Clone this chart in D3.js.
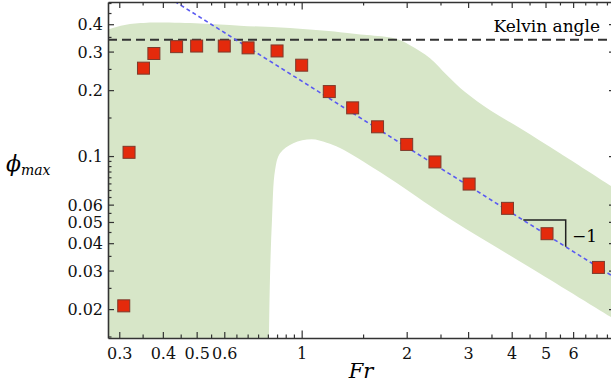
<!DOCTYPE html>
<html>
<head>
<meta charset="utf-8">
<script src="https://cdn.jsdelivr.net/npm/d3@7"></script>
<style>
  html, body { margin: 0; padding: 0; background: #fff; }
  svg { display: block; }
</style>
</head>
<body>
<figure id="chart" style="margin:0"></figure>
<script>
// measured points
const fr = [0.309, 0.320, 0.352, 0.377, 0.438, 0.500, 0.600, 0.702, 0.850, 1.00,
            1.20, 1.40, 1.65, 2.00, 2.41, 3.02, 3.89, 5.05, 7.09];
const phiMax = [0.0207, 0.104, 0.252, 0.294, 0.316, 0.318, 0.318, 0.312, 0.302, 0.260,
                0.197, 0.166, 0.136, 0.113, 0.094, 0.0745, 0.0577, 0.0442, 0.0310];

// green band: upper edge (left to right), lower edge (right to left)
const bandUpperFr  = [0.27, 0.311, 0.360, 0.511, 0.665, 0.926, 1.288, 1.539, 1.851, 2.044,
                      2.333, 2.61, 2.94, 3.47, 4.23, 5.50, 8.0];
const bandUpperPhi = [0.372, 0.3965, 0.406, 0.403, 0.394, 0.384, 0.368, 0.357, 0.344, 0.321,
                      0.280, 0.234, 0.196, 0.162, 0.134, 0.103, 0.0702];
const bandLowerFr  = [8.0, 4.5, 2.692, 1.677, 1.288, 1.18, 1.068, 0.946, 0.867, 0.839,
                      0.822, 0.811, 0.806];
const bandLowerPhi = [0.01774, 0.0311, 0.0510, 0.0845, 0.1088, 0.115, 0.1192, 0.1143, 0.1029, 0.0863,
                      0.0510, 0.0272, 0.0140];

// reference lines
const kelvinPhi = 0.3398;
const slopeFr = [0.4, 8.0];
const slopePhi = [0.55, 0.0275];
const triFr = [4.318, 5.713, 5.713];
const triPhi = [0.0510, 0.0510, 0.0385];

// ticks
const xLabelTicks = [0.3, 0.4, 0.5, 0.6, 1, 2, 3, 4, 5, 6];
const xMinorTicks = [0.35, 0.45, 0.55, 0.65, 0.7, 0.75, 0.8, 0.85, 0.9, 0.95,
                     1.5, 2.5, 3.5, 4.5, 5.5, 6.5, 7, 7.5];
const yLabelTicks = [0.02, 0.03, 0.04, 0.05, 0.06, 0.1, 0.2, 0.3, 0.4];
const yMinorTicks = [0.015, 0.025, 0.035, 0.045, 0.055, 0.065, 0.07, 0.075, 0.08, 0.085, 0.09, 0.095,
                     0.15, 0.25, 0.35, 0.45, 0.5];

const width = 611, height = 386;
const mLeft = 108, mRight = 615, mTop = 2, mBottom = 338;
const serif = "DejaVu Serif, serif";

const svg = d3.select("#chart").append("svg")
  .attr("width", width)
  .attr("height", height);

const x = d3.scaleLog().domain([0.2785, 7.91]).range([mLeft, mRight]);
const y = d3.scaleLog().domain([0.01476, 0.5053]).range([mBottom, mTop]);

svg.append("clipPath").attr("id", "clip")
  .append("rect")
  .attr("x", mLeft).attr("y", mTop)
  .attr("width", mRight - mLeft).attr("height", mBottom - mTop);

const plot = svg.append("g").attr("clip-path", "url(#clip)");

// green band
const curve = d3.line().curve(d3.curveCatmullRom.alpha(0.5));
const upperPts = bandUpperFr.map((f, i) => [x(f), y(bandUpperPhi[i])]);
const lowerPts = bandLowerFr.map((f, i) => [x(f), y(bandLowerPhi[i])]);
const bandPath = curve(upperPts) + curve(lowerPts).replace(/^M/, "L")
  + "L" + x(0.27) + "," + y(0.014) + "Z";
plot.append("path")
  .attr("d", bandPath)
  .attr("fill", "#d7e6c8");

// Kelvin angle line
plot.append("line")
  .attr("x1", mLeft).attr("x2", mRight)
  .attr("y1", y(kelvinPhi)).attr("y2", y(kelvinPhi))
  .attr("stroke", "#333")
  .attr("stroke-width", 1.8)
  .attr("stroke-dasharray", "9,5");

// slope -1 line
plot.append("path")
  .attr("d", d3.line()(slopeFr.map((f, i) => [x(f), y(slopePhi[i])])))
  .attr("fill", "none")
  .attr("stroke", "#5a5af2")
  .attr("stroke-width", 1.6)
  .attr("stroke-dasharray", "4,3");

// slope triangle
plot.append("path")
  .attr("d", d3.line()(triFr.map((f, i) => [x(f), y(triPhi[i])])))
  .attr("fill", "none")
  .attr("stroke", "#222")
  .attr("stroke-width", 1.5);

// data squares
const s = 12;
plot.selectAll("rect.pt")
  .data(fr.map((f, i) => ({ f: f, p: phiMax[i] })))
  .enter()
  .append("rect")
  .attr("class", "pt")
  .attr("x", d => x(d.f) - s / 2)
  .attr("y", d => y(d.p) - s / 2)
  .attr("width", s)
  .attr("height", s)
  .attr("fill", "#e42a0c")
  .attr("stroke", "#7d3a2c")
  .attr("stroke-width", 1);

// frame axes, ticks pointing inward
const axisColor = "#333";
function drawAxis(axis, major, minor, trans) {
  const g = svg.append("g").attr("transform", trans);
  g.call(axis.tickValues(major).tickSizeInner(-6).tickSizeOuter(0));
  const g2 = svg.append("g").attr("transform", trans);
  g2.call(axis.tickValues(minor).tickSizeInner(-3.5).tickSizeOuter(0).tickFormat(""));
  g2.select(".domain").remove();
  [g, g2].forEach(gg => {
    gg.selectAll("line").attr("stroke", axisColor).attr("stroke-width", 1.2);
    gg.selectAll(".domain").attr("stroke", axisColor).attr("stroke-width", 1.6);
  });
  return g;
}

const fmt = d => String(d);
const gx = drawAxis(d3.axisBottom(x).tickFormat(fmt), xLabelTicks, xMinorTicks, `translate(0,${mBottom})`);
gx.attr("font-family", serif);
gx.selectAll("text")
  .attr("font-family", serif).attr("font-size", 16).attr("fill", "#111")
  .attr("y", 10).attr("dy", "0.71em");
gx.selectAll(".tick line").filter(d => d === 1).attr("y2", -7.5);

const gxt = drawAxis(d3.axisTop(x), xLabelTicks, xMinorTicks, `translate(0,${mTop})`);
gxt.selectAll("text").remove();
gxt.selectAll(".tick line").filter(d => d === 1).attr("y2", 7.5);

const gy = drawAxis(d3.axisLeft(y).tickFormat(fmt), yLabelTicks, yMinorTicks, `translate(${mLeft},0)`);
gy.attr("font-family", serif);
gy.selectAll("text")
  .attr("font-family", serif).attr("font-size", 16).attr("fill", "#111")
  .attr("x", -5).attr("dy", "0.36em");

const gyr = drawAxis(d3.axisRight(y), yLabelTicks, yMinorTicks, `translate(${mRight},0)`);
gyr.selectAll("text").remove();

// labels
svg.append("text")
  .attr("x", 600).attr("y", 32)
  .attr("text-anchor", "end")
  .attr("font-family", serif)
  .attr("font-size", 17)
  .text("Kelvin angle");

svg.append("text")
  .attr("x", 572).attr("y", 242)
  .attr("font-family", serif)
  .attr("font-size", 17)
  .text("\u22121");

svg.append("text")
  .attr("x", 361).attr("y", 378)
  .attr("text-anchor", "middle")
  .attr("font-family", serif)
  .attr("font-size", 21)
  .attr("font-style", "italic")
  .text("Fr");

const yl = svg.append("text").attr("x", 6).attr("y", 171).attr("font-family", serif);
yl.append("tspan").attr("font-size", 22).attr("font-style", "italic").text("\u03d5");
yl.append("tspan").attr("font-size", 14).attr("font-style", "italic").attr("dy", 4).text("max");
</script>
</body>
</html>
